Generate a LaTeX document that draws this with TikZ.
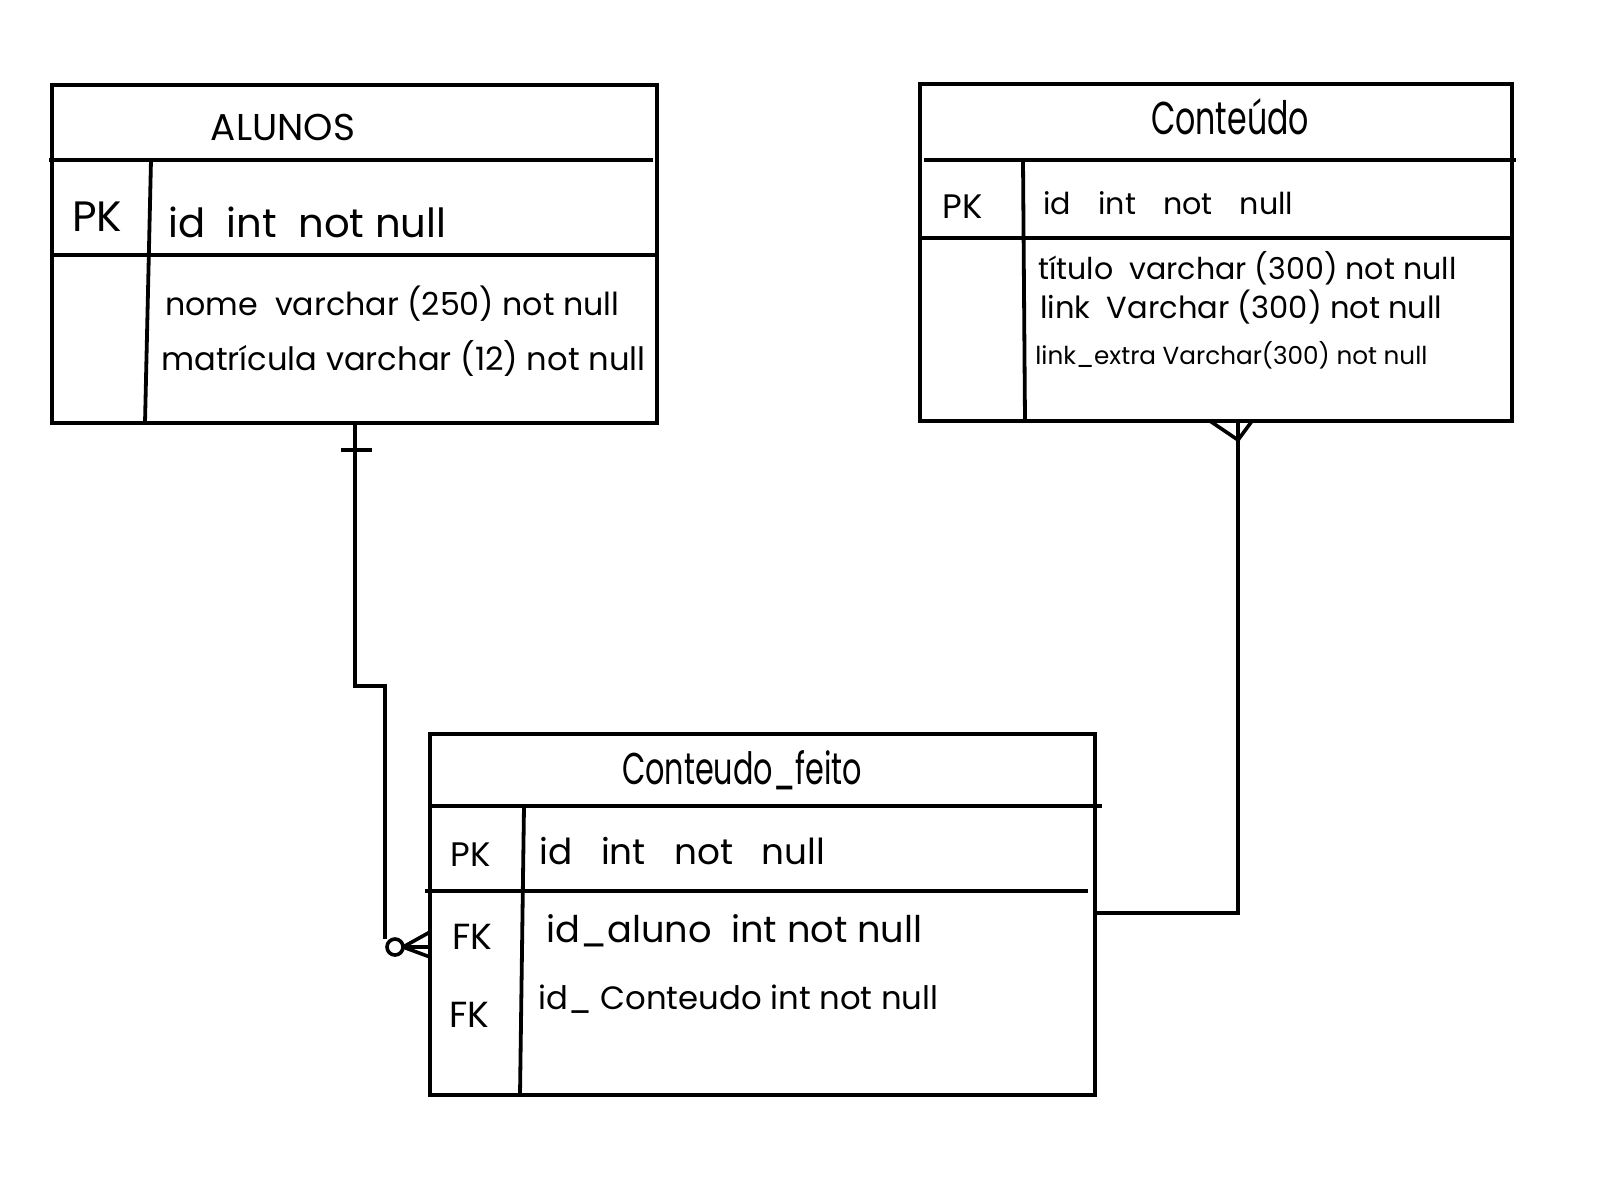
\documentclass[tikz,border=0pt]{standalone}
\usepackage{fontspec}
\setmainfont{Poppins}
\usepackage{graphicx}
\usetikzlibrary{calc}
\newcommand{\fitto}[2]{\resizebox{#1pt}{!}{#2}}
\newcommand{\gap}{\hspace{0.8em}}
\begin{document}
\begin{tikzpicture}[x=0.5pt,y=-0.5pt,
  tbl/.style={draw, line width=2pt, inner sep=0pt, outer sep=0pt},
  rulel/.style={line width=1.9pt},
  conn/.style={line width=1.8pt},
  txt/.style={inner sep=0pt, anchor=west, font=\fontsize{20}{24}\selectfont},
  ttl/.style={inner sep=0pt, anchor=center, font=\fontsize{20}{24}\selectfont}]
\useasboundingbox (0,0) rectangle (1600,1191);
\fill[white] (0,0) rectangle (1600,1191);

% tables
\node[tbl, minimum width=302.5pt, minimum height=169pt] (alunos) at (354.5,254) {};
\node[tbl, minimum width=296pt, minimum height=168.5pt] (conteudo) at (1216,252.5) {};
\node[tbl, minimum width=332.5pt, minimum height=180.5pt] (feito) at (762.5,914.5) {};

% inner rules
\draw[rulel] (49,160) -- (653,160);
\draw[rulel] (50,255) -- (657,255);
\draw[rulel] (151,160) -- (145,423);

\draw[rulel] (924,160) -- (1516,160);
\draw[rulel] (918,238) -- (1512,238);
\draw[rulel] (1023,160) -- (1025,421);

\draw[rulel] (430,806) -- (1102,806);
\draw[rulel] (425,891) -- (1088,891);
\draw[rulel] (524,806) -- (520,1095);

% Alunos texts
\node[ttl] (a0) at (283,127) {\fitto{72}{ALUNOS}};
\node[txt] (a1) at (72,217) {\fitto{25}{PK}};
\node[txt] (a2) at (168,222) {\fitto{139}{id\ \ int\ \ not null}};
\node[txt] (a3) at (165,304) {\fitto{227}{nome\ \ varchar (250) not null}};
\node[txt] (a4) at (161,358) {\fitto{242}{matrícula varchar (12) not null}};

% Conteudo texts
\node[ttl] (c0) at (1230,117) {\resizebox{79pt}{18pt}{Conteúdo}};
\node[txt] (c1) at (942,207) {\fitto{20}{PK}};
\node[txt] (c2) at (1043,203) {\fitto{125}{id\hspace{0.9em}int\hspace{0.9em}not\hspace{0.9em}null}};
\node[txt] (c3) at (1038,268) {\fitto{209}{título\ \ varchar (300) not null}};
\node[txt] (c4) at (1040,307) {\fitto{201}{link\ \ Varchar (300) not null}};
\node[txt] (c5) at (1035,355) {\fitto{196}{link\_extra Varchar(300) not null}};

% Conteudo_feito texts
\node[ttl] (f0) at (742,770) {\resizebox{120pt}{17pt}{Conteudo\_feito}};
\node[txt] (f1) at (450,855) {\fitto{20}{PK}};
\node[txt] (f2) at (539,851) {\fitto{143}{id\gap int\gap not\gap null}};
\node[txt] (f3) at (452,937) {\fitto{20}{FK}};
\node[txt] (f4) at (546,931) {\fitto{188}{id\_aluno\ \ int\ not null}};
\node[txt] (f5) at (449,1015) {\fitto{20}{FK}};
\node[txt] (f6) at (538,999) {\fitto{200}{id\_ Conteudo\ int not null}};

% connector Alunos -> Conteudo_feito
\coordinate (j1) at (355,686);
\coordinate (j2) at (385,686);
\coordinate (j3) at (385,939);
\coordinate (cc) at (395,947);
\coordinate (ct) at (403,947);
\coordinate (y1) at (0,932);
\coordinate (y2) at (0,947);
\coordinate (y3) at (0,957);
\draw[conn] (alunos.south -| j1) -- (j1) -- (j2) -- (j3);
\draw[conn] (cc) circle (8);
\draw[conn] (ct) -- (feito.west |- y1);
\draw[conn] (ct) -- (feito.west |- y2);
\draw[conn] (ct) -- (feito.west |- y3);
\coordinate (b1) at (341,450);
\coordinate (b2) at (372,450);
\draw[conn] (b1) -- (b2);

% connector Conteudo_feito -> Conteudo
\coordinate (k1) at (1238,913);
\coordinate (kc) at (1238,440);
\coordinate (kl) at (1210,0);
\coordinate (kr) at (1252,0);
\draw[conn] (feito.east |- k1) -- (k1) -- (conteudo.south -| k1);
\draw[conn] (conteudo.south -| kl) -- (kc) -- (conteudo.south -| kr);
\end{tikzpicture}
\end{document}
